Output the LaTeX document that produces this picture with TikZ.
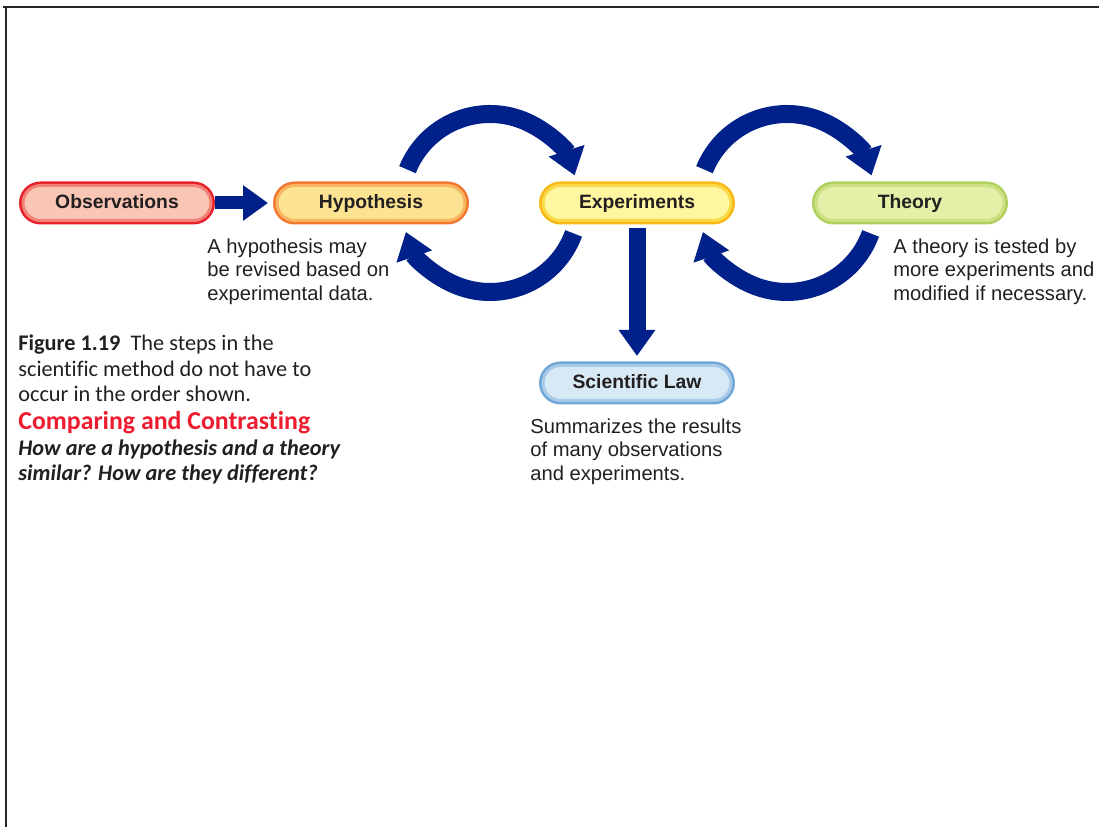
\documentclass[tikz,border=0pt]{standalone}
\usepackage{fontspec}
\setmainfont{Liberation Sans}
\newfontfamily\captfont[Ligatures={NoCommon}]{Carlito}
\usepackage{xcolor}
\usepackage{tikz}
\usetikzlibrary{arrows.meta, positioning, shadows}
\definecolor{flowblue}{RGB}{0,32,138}
\definecolor{textdark}{RGB}{35,31,32}
\definecolor{headred}{RGB}{237,28,46}
\definecolor{obsdark}{RGB}{232,32,42}
\definecolor{obsmid}{RGB}{243,130,118}
\definecolor{obsfill}{RGB}{249,198,182}
\definecolor{hypdark}{RGB}{242,120,48}
\definecolor{hypmid}{RGB}{248,180,94}
\definecolor{hypfill}{RGB}{252,227,145}
\definecolor{expdark}{RGB}{248,184,22}
\definecolor{expmid}{RGB}{252,216,70}
\definecolor{expfill}{RGB}{255,247,160}
\definecolor{theodark}{RGB}{176,208,94}
\definecolor{theomid}{RGB}{204,225,132}
\definecolor{theofill}{RGB}{228,240,168}
\definecolor{lawdark}{RGB}{111,166,214}
\definecolor{lawmid}{RGB}{168,202,233}
\definecolor{lawfill}{RGB}{216,233,246}
\tikzstyle{pill} = [rectangle, rounded corners=0.35cm, minimum width=3.76cm, minimum height=0.7cm, inner sep=0pt, text height=1.55ex, text depth=0.45ex, line width=0.06cm, text=textdark, font=\bfseries\fontsize{11}{13}\selectfont, drop shadow={shadow xshift=1pt, shadow yshift=-2pt, opacity=0.25}]
\tikzstyle{obsbox} = [pill, fill=obsfill, draw=obsmid, preaction={draw=obsdark, line width=0.16cm}]
\tikzstyle{hypbox} = [pill, fill=hypfill, draw=hypmid, preaction={draw=hypdark, line width=0.16cm}]
\tikzstyle{expbox} = [pill, fill=expfill, draw=expmid, preaction={draw=expdark, line width=0.16cm}]
\tikzstyle{theobox} = [pill, fill=theofill, draw=theomid, preaction={draw=theodark, line width=0.16cm}]
\tikzstyle{lawbox} = [pill, fill=lawfill, draw=lawmid, preaction={draw=lawdark, line width=0.16cm}]
\tikzstyle{sidearrow} = [flowblue, line width=0.26cm, -{Triangle[width=0.68cm, length=0.5cm]}, shorten <=0.05cm, shorten >=0.15cm]
\tikzstyle{downarrow} = [flowblue, line width=0.34cm, -{Triangle[width=0.7cm, length=0.52cm]}, shorten <=0.12cm, shorten >=0.16cm]
\tikzstyle{looparrow} = [flowblue, line width=0.36cm, -{Triangle[width=0.72cm, length=0.52cm]}]
\tikzstyle{note} = [anchor=north west, align=left, inner sep=0pt, text=textdark, font=\fontsize{11.5}{13.1}\selectfont]
\tikzstyle{capt} = [anchor=north west, align=left, inner sep=0pt, text=textdark, font=\captfont\fontsize{12.7}{14.5}\selectfont]
\tikzstyle{frame} = [line width=0.04cm, black!85]

\begin{document}
\begin{tikzpicture}[x=0.02cm, y=0.02cm]
  \useasboundingbox (0,0) rectangle (1099,827);
  \draw[frame] (3,820) -- (1099,820);
  \draw[frame] (6,821) -- (6,0);

  % steps of the method
  \node[obsbox] (obs) at (117,624) {Observations};
  \node[hypbox] (hyp) at (371,624) {Hypothesis};
  \node[expbox] (exp) at (637,624) {Experiments};
  \node[theobox] (theo) at (910,624) {Theory};
  \node[lawbox] (law) at (637,444) {Scientific Law};

  \draw[sidearrow] (obs) -- (hyp);
  \draw[downarrow] (exp) -- (law);

  % loops between the steps
  \coordinate (hyploop) at (490,624);
  \coordinate (theoloop) at (787,624);
  \foreach \c in {hyploop, theoloop} {
    \draw[looparrow] (\c) ++(158:1.78cm) arc[start angle=158, end angle=18, radius=1.78cm];
    \draw[looparrow] (\c) ++(-20:1.78cm) arc[start angle=-20, end angle=-161, radius=1.78cm];
  }

  \node[note] (hypnote) at (207,588) {A hypothesis may\\be revised based on\\experimental data.};
  \node[note] (theonote) at (893,588) {A theory is tested by\\more experiments and\\modified if necessary.};
  \node[note] (lawnote) at (530,408) {Summarizes the results\\of many observations\\and experiments.};

  % caption
  \node[capt] (fig) at (18,492) {\textbf{Figure 1.19}\ \ The steps in the\\scientific method do not have to\\occur in the order shown.};
  \node[capt, anchor=base west, text=headred, font=\captfont\bfseries\fontsize{14.7}{16}\selectfont] (cmp) at (18,397) {Comparing and Contrasting};
  \node[capt, font=\captfont\bfseries\itshape\fontsize{12.7}{14.2}\selectfont] (quest) at (18,387) {How are a hypothesis and a theory\\similar? How are they different?};
\end{tikzpicture}
\end{document}
